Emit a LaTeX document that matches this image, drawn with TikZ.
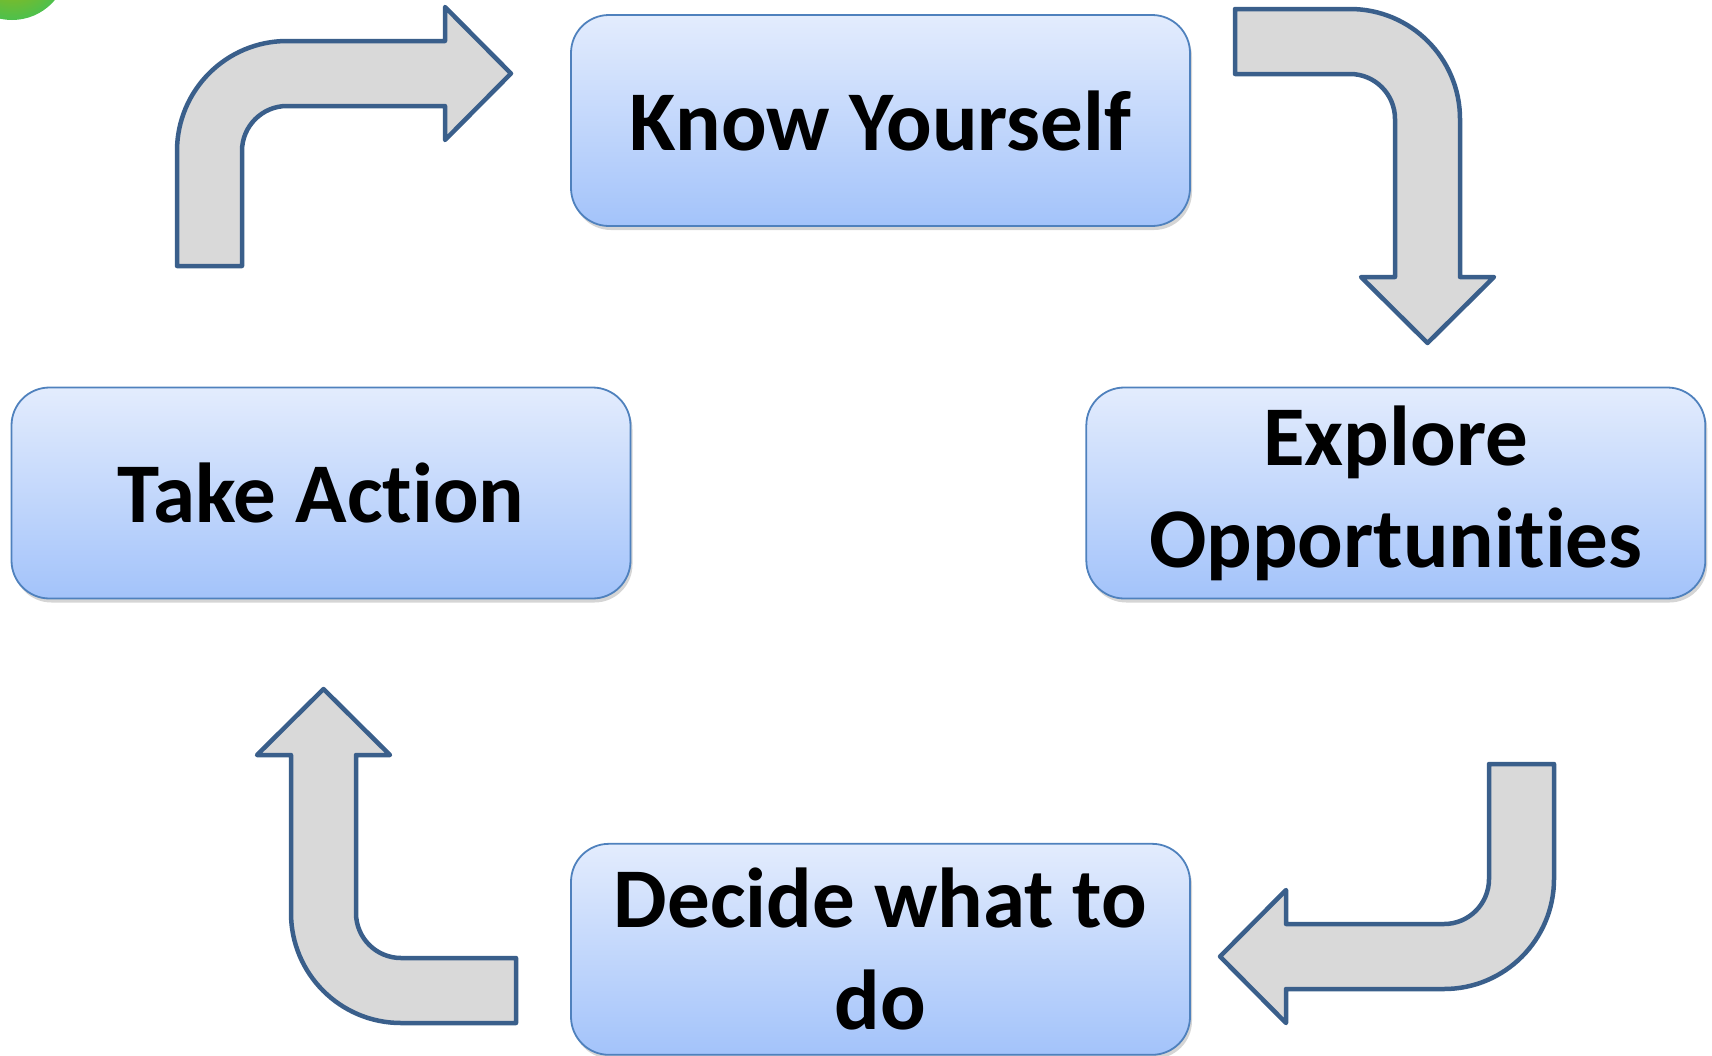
\documentclass[tikz,border=0pt]{standalone}
\usepackage{fontspec}
\setmainfont{Carlito}[Ligatures=NoCommon]
\usetikzlibrary{positioning}
\usetikzlibrary{shadows}

\definecolor{boxtop}{HTML}{E3ECFD}
\definecolor{boxbot}{HTML}{A3C3FA}
\definecolor{boxline}{HTML}{4F81BD}
\definecolor{arrowfill}{HTML}{D9D9D9}
\definecolor{arrowline}{HTML}{3A5F8B}

\tikzset{
  stepbox/.style={draw=boxline, line width=1.8pt, rounded corners=38pt,
    top color=boxtop, bottom color=boxbot, inner sep=0pt,
    minimum width=619pt, minimum height=211pt, align=center,
    font=\fontsize{85}{102}\selectfont\bfseries,
    drop shadow={shadow xshift=2pt, shadow yshift=-4pt, opacity=.3, fill=black!55}},
  turnarrow/.style={draw=arrowline, fill=arrowfill, line width=4.5pt, line join=round},
  pics/bentarrow/.style={code={
    \draw[turnarrow] (0,0) -- (0,115) arc[start angle=180, end angle=90, radius=110]
      -- (268,225) -- (268,259) -- (334,192.5) -- (268,126) -- (268,160)
      -- (110,160) arc[start angle=90, end angle=180, radius=45] -- (65,0) -- cycle;
  }}
}

\begin{document}
\begin{tikzpicture}[x=1pt, y=1pt]
  \useasboundingbox (0,-1055) rectangle (1712,0);

  % bit of clip-art cut off in the corner
  \shade[inner color=olive!60!yellow, outer color=green!65!black!70] (12,36) circle (56);

  \node[stepbox] (know) at (880.5,-120.5) {Know Yourself};
  \node[stepbox] (take) at (321,-493) {Take Action};
  \node[stepbox, right=454pt of take] (explore) {Explore\\Opportunities};
  \node[stepbox, below=616pt of know] (decide) {Decide what to\\do};

  % the four bent arrows, one turned a quarter further each time
  \pic at (177,-266) {bentarrow};
  \pic[rotate=-90] at (1235,-9) {bentarrow};
  \pic[rotate=180] at (1554,-764) {bentarrow};
  \pic[rotate=90] at (516,-1023) {bentarrow};
\end{tikzpicture}
\end{document}
